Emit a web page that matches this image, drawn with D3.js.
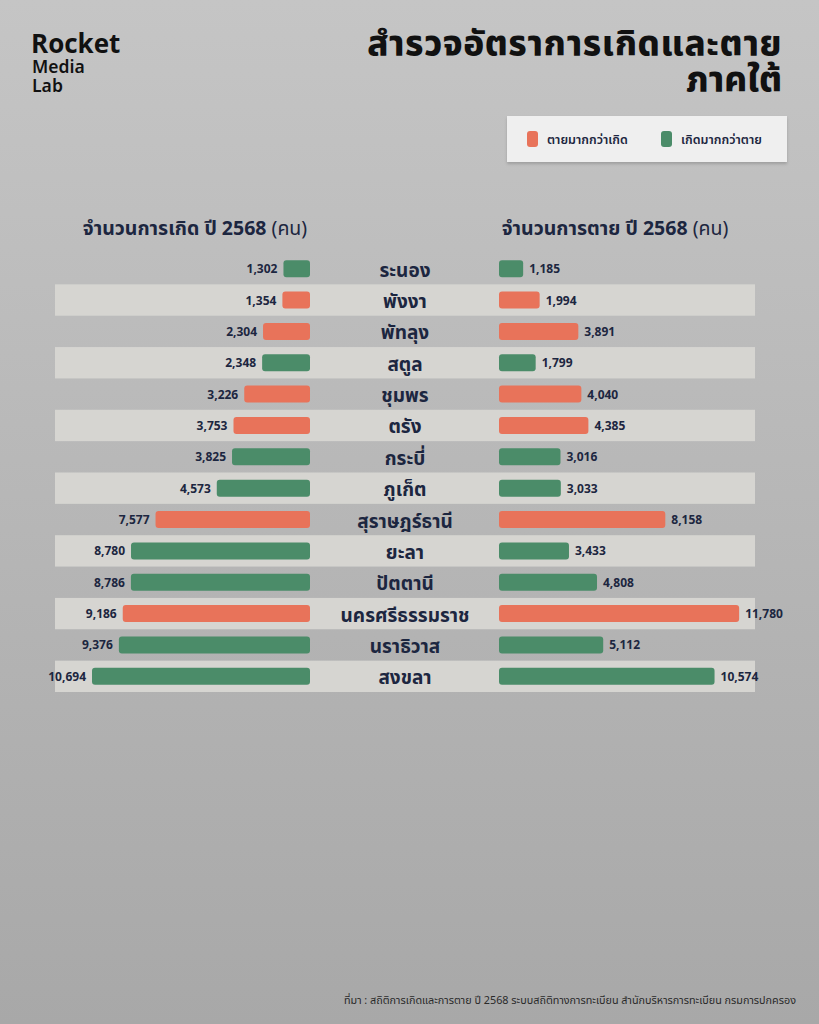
<!DOCTYPE html>
<html>
<head>
<meta charset="utf-8">
<script src="https://cdn.jsdelivr.net/npm/d3@7"></script>
<style>
  body { margin: 0; padding: 0; }
  svg { display: block; font-family: "Noto Sans Thai", "Noto Sans", Roboto, sans-serif; }
</style>
</head>
<body>
<div id="chart"></div>
<script>
// data
var provinces = ["ระนอง", "พังงา", "พัทลุง", "สตูล", "ชุมพร", "ตรัง", "กระบี่", "ภูเก็ต",
  "สุราษฎร์ธานี", "ยะลา", "ปัตตานี", "นครศรีธรรมราช", "นราธิวาส", "สงขลา"];
var births = [1302, 1354, 2304, 2348, 3226, 3753, 3825, 4573, 7577, 8780, 8786, 9186, 9376, 10694];
var deaths = [1185, 1994, 3891, 1799, 4040, 4385, 3016, 3033, 8158, 3433, 4808, 11780, 5112, 10574];
var legendLabels = ["ตายมากกว่าเกิด", "เกิดมากกว่าตาย"];

var W = 819, H = 1024;
var orange = "#e8735a", green = "#4b8c69", navy = "#1c2640";

var svg = d3.select("#chart").append("svg")
  .attr("width", W)
  .attr("height", H);

// background gradient
var grad = svg.append("defs").append("linearGradient")
  .attr("id", "bg").attr("x1", 0).attr("y1", 0).attr("x2", 0).attr("y2", 1);
grad.append("stop").attr("offset", "0%").attr("stop-color", "#c5c5c5");
grad.append("stop").attr("offset", "100%").attr("stop-color", "#a8a8a8");
svg.append("rect").attr("width", W).attr("height", H).attr("fill", "url(#bg)");

var shadow = svg.select("defs").append("filter").attr("id", "sh")
  .attr("x", "-10%").attr("y", "-20%").attr("width", "120%").attr("height", "150%");
shadow.append("feDropShadow").attr("dx", 0).attr("dy", 2).attr("stdDeviation", 1.5)
  .attr("flood-color", "#000").attr("flood-opacity", 0.18);

// logo
var logo = svg.append("g").attr("fill", "#111");
logo.append("text").attr("x", 31).attr("y", 53).attr("font-size", 26).attr("font-weight", 700).text("Rocket");
logo.append("text").attr("x", 32).attr("y", 73).attr("font-size", 17.5).attr("font-weight", 600).text("Media");
logo.append("text").attr("x", 32).attr("y", 92).attr("font-size", 17.5).attr("font-weight", 600).text("Lab");

// title
svg.append("text").attr("x", 782).attr("y", 56).attr("text-anchor", "end")
  .attr("font-size", 35).attr("font-weight", 800).attr("fill", "#111")
  .attr("letter-spacing", 0.6)
  .text("สำรวจอัตราการเกิดและตาย");
svg.append("text").attr("x", 782).attr("y", 92).attr("text-anchor", "end")
  .attr("font-size", 35).attr("font-weight", 800).attr("fill", "#111")
  .text("ภาคใต้");

// legend
var lg = svg.append("g");
lg.append("rect").attr("x", 507).attr("y", 116).attr("width", 280).attr("height", 46)
  .attr("fill", "#efefef").attr("filter", "url(#sh)");
var lgItems = lg.selectAll("g.item").data(legendLabels).enter().append("g")
  .attr("transform", function (d, i) { return "translate(" + (527 + i * 134) + ",131)"; });
lgItems.append("rect").attr("width", 11).attr("height", 16).attr("rx", 3)
  .attr("fill", function (d, i) { return i === 0 ? orange : green; });
lgItems.append("text").attr("x", 20).attr("y", 13).attr("font-size", 12.5).attr("font-weight", 600)
  .attr("fill", navy).text(function (d) { return d; });

// scales
var y = d3.scaleBand().domain(provinces).range([253, 692]);
var x = d3.scaleLinear().domain([0, 10694]).range([0, 218]);
var leftEnd = 310, rightStart = 499, barH = 17;

// headers
var hdr = [["จำนวนการเกิด ปี 2568", 195], ["จำนวนการตาย ปี 2568", 615]];
hdr.forEach(function (h) {
  var t = svg.append("text").attr("x", h[1]).attr("y", 235).attr("text-anchor", "middle")
    .attr("font-size", 19.5).attr("fill", navy);
  t.append("tspan").attr("font-weight", 700).text(h[0] + " ");
  t.append("tspan").attr("font-weight", 400).text("(คน)");
});

// row stripes
svg.append("g").selectAll("rect")
  .data(provinces.filter(function (d, i) { return i % 2 === 1; }))
  .enter().append("rect")
  .attr("x", 55).attr("width", 700)
  .attr("y", function (d) { return y(d); })
  .attr("height", y.bandwidth())
  .attr("fill", "#d6d5d1");

var rows = svg.append("g").selectAll("g")
  .data(provinces)
  .enter().append("g")
  .attr("transform", function (d) { return "translate(0," + (y(d) + y.bandwidth() / 2) + ")"; });

function col(i) { return deaths[i] > births[i] ? orange : green; }

// births, to the left
rows.append("rect")
  .attr("x", function (d, i) { return leftEnd - x(births[i]); })
  .attr("y", -barH / 2)
  .attr("width", function (d, i) { return x(births[i]); })
  .attr("height", barH).attr("rx", 3)
  .attr("fill", function (d, i) { return col(i); });
rows.append("text")
  .attr("x", function (d, i) { return leftEnd - x(births[i]) - 6; })
  .attr("y", 4.5).attr("text-anchor", "end")
  .attr("font-size", 12).attr("font-weight", 700).attr("fill", navy)
  .text(function (d, i) { return d3.format(",")(births[i]); });

// deaths, to the right
rows.append("rect")
  .attr("x", rightStart)
  .attr("y", -barH / 2)
  .attr("width", function (d, i) { return x(deaths[i]); })
  .attr("height", barH).attr("rx", 3)
  .attr("fill", function (d, i) { return col(i); });
rows.append("text")
  .attr("x", function (d, i) { return rightStart + x(deaths[i]) + 6; })
  .attr("y", 4.5)
  .attr("font-size", 12).attr("font-weight", 700).attr("fill", navy)
  .text(function (d, i) { return d3.format(",")(deaths[i]); });

// province names
rows.append("text")
  .attr("x", 405).attr("y", 8).attr("text-anchor", "middle")
  .attr("font-size", 19).attr("font-weight", 700).attr("fill", navy)
  .text(function (d) { return d; });

// source
svg.append("text").attr("x", 796).attr("y", 1004).attr("text-anchor", "end")
  .attr("font-size", 10.8).attr("fill", "#2a2a2a")
  .text("ที่มา : สถิติการเกิดและการตาย ปี 2568 ระบบสถิติทางการทะเบียน สำนักบริหารการทะเบียน กรมการปกครอง");
</script>
</body>
</html>
